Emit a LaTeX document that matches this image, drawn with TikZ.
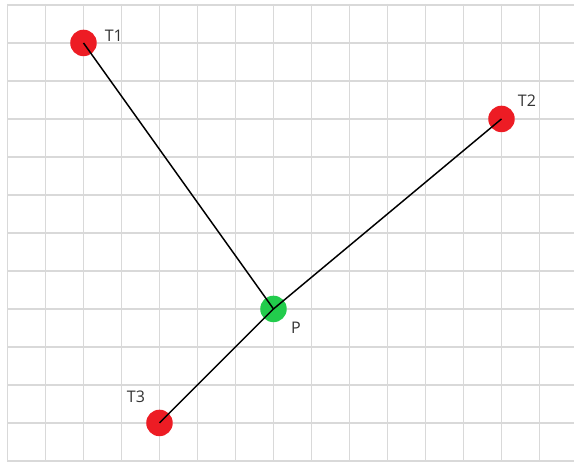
\documentclass[tikz,border=0pt]{standalone}
\usepackage{fontspec}
\setmainfont{Open Sans}
\usepackage{tikz}
\definecolor{target}{HTML}{ED1C24}
\definecolor{point}{HTML}{22CC4C}
\definecolor{gridgray}{HTML}{D9D9D9}
\definecolor{labeltext}{HTML}{333333}

\begin{document}
\begin{tikzpicture}[
  x=38pt, y=-38pt,
  gridline/.style={gridgray, line width=1.2pt},
  dot/.style={circle, minimum size=26.5pt, inner sep=0pt},
  link/.style={black, line width=1.5pt},
  tag/.style={font=\fontsize{16}{19}\selectfont, text=labeltext, inner sep=0pt},
]

\useasboundingbox (-0.197, -0.13) rectangle (14.908, 12.03);

% grid
\foreach \i in {0,...,14}
  \draw[gridline] (\i, -0.03) -- (\i, 12.03);
\foreach \j in {0,...,12}
  \draw[gridline] (-0.01, \j) -- (14.908, \j);

\node[dot, fill=target] (t1) at (2, 1) {};
\node[dot, fill=target] (t2) at (13, 3) {};
\node[dot, fill=target] (t3) at (4, 11) {};
\node[dot, fill=point] (p) at (7, 8) {};

\node[tag] (t1lbl) at (2.80, 0.82) {T1};
\node[tag] (t2lbl) at (13.67, 2.53) {T2};
\node[tag] (t3lbl) at (3.38, 10.32) {T3};
\node[tag] (plbl) at (7.59, 8.50) {P};

\draw[link] (t1.center) -- (p.center);
\draw[link] (t2.center) -- (p.center);
\draw[link] (t3.center) -- (p.center);

\end{tikzpicture}
\end{document}
